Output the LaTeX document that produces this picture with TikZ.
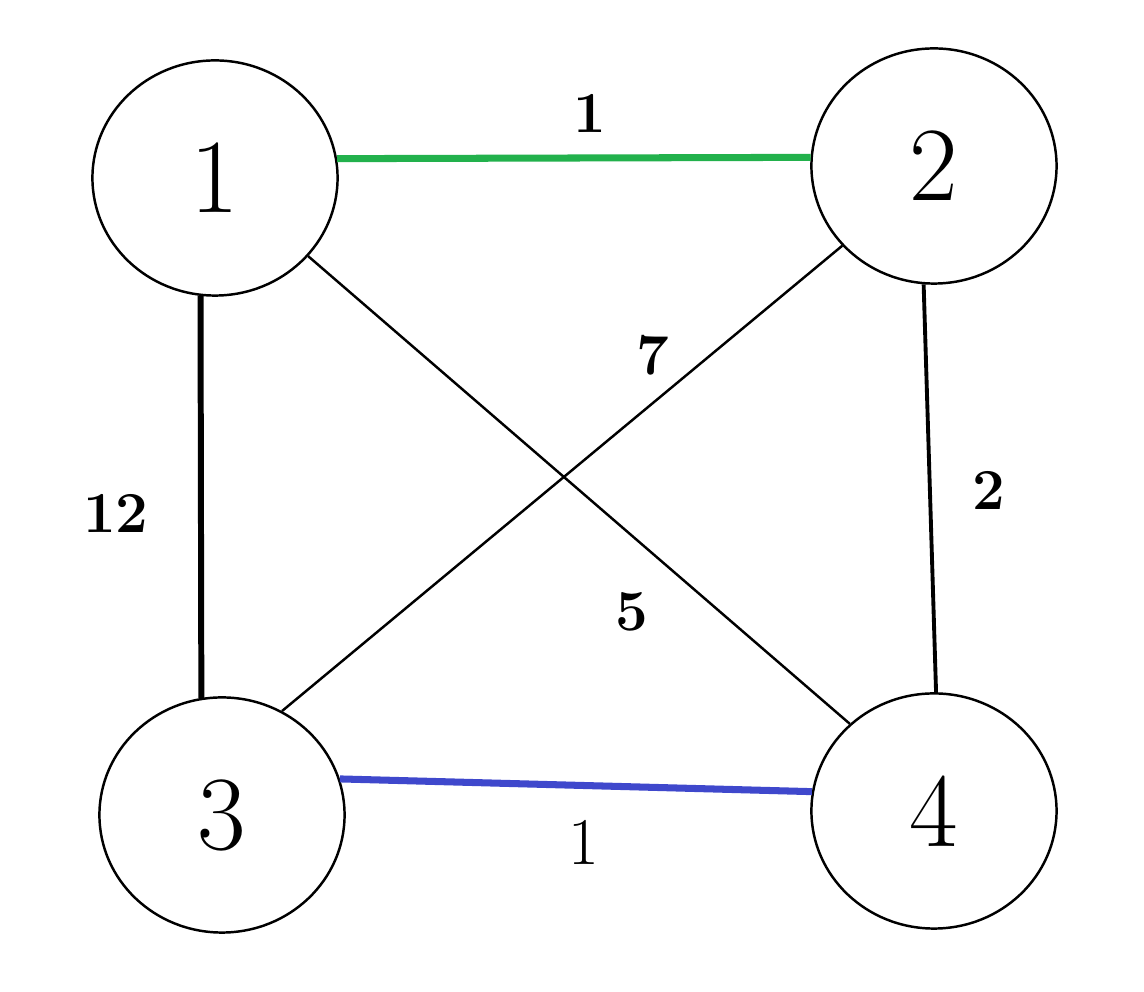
\documentclass[tikz,border=0pt]{standalone}
\usepackage{fontspec}
\usepackage{tikz}
\usetikzlibrary{shapes.geometric}
\definecolor{paintgreen}{RGB}{34,177,76}
\definecolor{paintblue}{RGB}{63,72,204}

\begin{document}
\begin{tikzpicture}[x=0.01cm,y=-0.01cm]
    \tikzset{vertex/.style = {shape=ellipse,draw,line width=0.7pt,inner sep=0pt,
        minimum width=2.45cm,minimum height=2.35cm,font=\fontsize{30}{36}\selectfont}}
    \tikzset{edge/.style = {line width=0.7pt}}
    \tikzset{weight/.style = {inner sep=0pt,font=\fontsize{16.5}{20}\selectfont\bfseries}}
    \useasboundingbox (0,0) rectangle (1144,992);
    % vertices
    \node[vertex] (1) at (215,178) {1};
    \node[vertex] (2) at (934,166) {2};
    \node[vertex] (3) at (222,815) {3};
    \node[vertex] (4) at (934,811) {4};
    % edges
    \draw[edge,paintgreen,line width=2pt] (1.9.5) -- (2.176.3);
    \draw[edge,line width=1.7pt] (1.-97.3) -- (3.100.6);
    \draw[edge,line width=1.1pt] (2.-95.8) -- (4.89.5);
    \draw[edge] (1.-40.1) -- (4.134.1);
    \draw[edge] (2.-139.3) -- (3.60.3);
    \draw[edge,paintblue,line width=2pt] (3.17.6) -- (4.171);
    % weights
    \node[weight] (w12) at (590,113) {1};
    \node[weight] (w13) at (116,513) {12};
    \node[weight] (w23) at (653,355) {7};
    \node[weight] (w14) at (632,612) {5};
    \node[weight] (w24) at (989,490) {2};
    \node[weight,font=\fontsize{19}{23}\selectfont] (w34) at (584,842) {1};
\end{tikzpicture}
\end{document}
